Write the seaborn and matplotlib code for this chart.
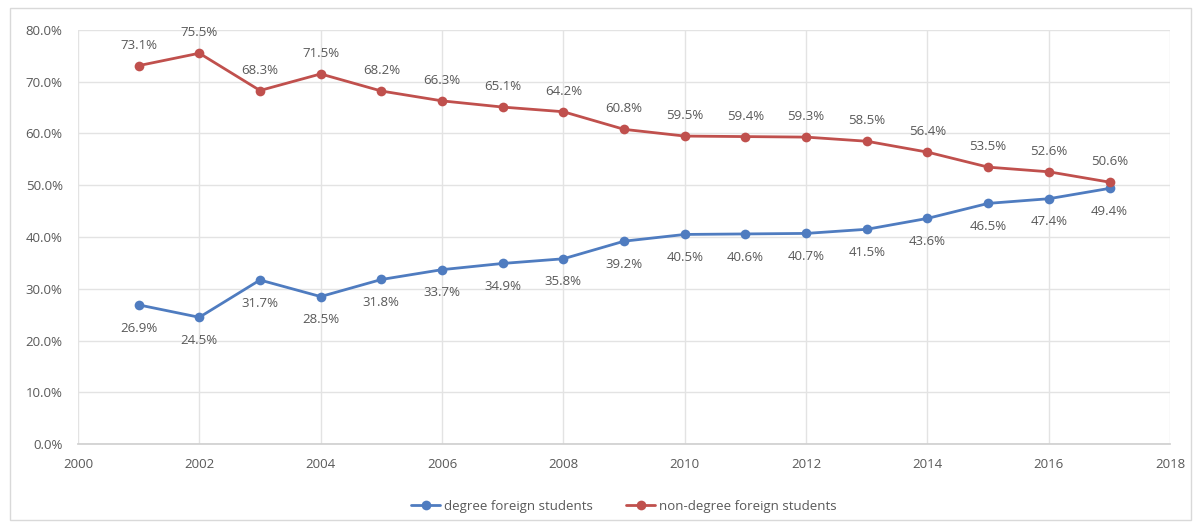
import matplotlib
matplotlib.use("Agg")
import matplotlib.pyplot as plt
import seaborn as sns
import pandas as pd
from matplotlib.ticker import FuncFormatter, MultipleLocator
from matplotlib.patches import Rectangle

years = list(range(2001, 2018))
degree = [26.9, 24.5, 31.7, 28.5, 31.8, 33.7, 34.9, 35.8, 39.2, 40.5, 40.6, 40.7, 41.5, 43.6, 46.5, 47.4, 49.4]
non_degree = [73.1, 75.5, 68.3, 71.5, 68.2, 66.3, 65.1, 64.2, 60.8, 59.5, 59.4, 59.3, 58.5, 56.4, 53.5, 52.6, 50.6]
series_names = ["degree foreign students", "non-degree foreign students"]
colors = ["#4F7CC0", "#C0504D"]

df = pd.concat([
    pd.DataFrame({"year": years, "value": degree, "series": series_names[0]}),
    pd.DataFrame({"year": years, "value": non_degree, "series": series_names[1]}),
])

sns.set_theme(style="white")
plt.rcParams['font.family'] = ['Open Sans', 'DejaVu Sans']

fig = plt.figure(figsize=(11.99, 5.25), dpi=100)
ax = fig.add_axes([0.065, 0.154, 0.911, 0.789])

sns.lineplot(data=df, x="year", y="value", hue="series", palette=colors,
             marker="o", markersize=7, markeredgewidth=0, linewidth=2.0, ax=ax)

txt_color = "#595959"
for x, y in zip(years, degree):
    ax.annotate(f"{y:.1f}%", (x, y), xytext=(0, -12), textcoords="offset points",
                ha="center", va="top", fontsize=9.5, color=txt_color)
for x, y in zip(years, non_degree):
    ax.annotate(f"{y:.1f}%", (x, y), xytext=(0, 10), textcoords="offset points",
                ha="center", va="bottom", fontsize=9.5, color=txt_color)

ax.set_xlim(2000, 2018)
ax.set_ylim(0, 80)
ax.xaxis.set_major_locator(MultipleLocator(2))
ax.yaxis.set_major_locator(MultipleLocator(10))
ax.yaxis.set_major_formatter(FuncFormatter(lambda v, p: f"{v:.1f}%"))
ax.grid(True, color="#E3E3E3", linewidth=1)
for s in ["top", "right", "left"]:
    ax.spines[s].set_visible(False)
ax.spines["bottom"].set_color("#D0D0D0")
ax.tick_params(axis="y", labelsize=9.5, colors=txt_color, length=0, pad=11)
ax.tick_params(axis="x", labelsize=9.5, colors=txt_color, length=0, pad=10)
ax.set_xlabel("")
ax.set_ylabel("")

handles, labels = ax.get_legend_handles_labels()
ax.legend(handles, labels, loc="lower center", bbox_to_anchor=(0.5, -0.195),
          ncol=2, frameon=False, fontsize=9.5, labelcolor=txt_color,
          handlelength=2.2, handletextpad=0.3, columnspacing=2.5)

fig.patches.append(Rectangle((0.008, 0.01), 0.985, 0.975, transform=fig.transFigure,
                             fill=False, edgecolor="#D9D9D9", linewidth=1))

fig.savefig("out.png", dpi=100)
